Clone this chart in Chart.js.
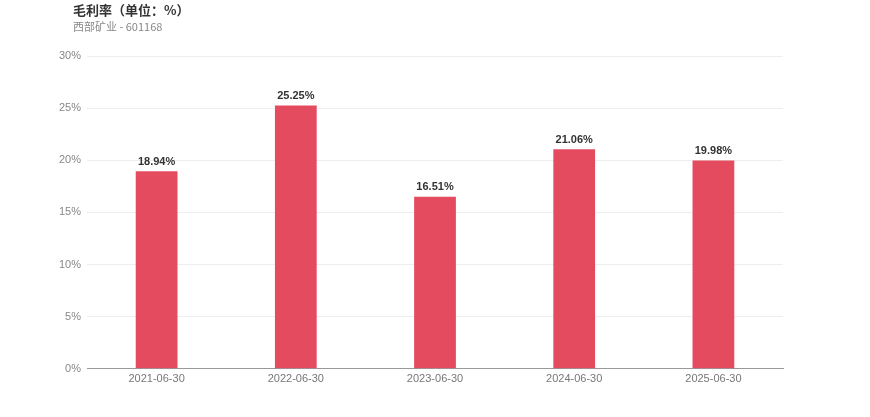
<!DOCTYPE html>
<html>
<head>
<meta charset="utf-8">
<script src="https://cdn.jsdelivr.net/npm/chart.js@4"></script>
<style>
  html, body { margin: 0; padding: 0; background: #fff; }
  #wrap { position: relative; width: 870px; height: 417px; }
  #title { position: absolute; left: 73px; top: 0px; font: bold 13px "Noto Sans CJK SC", "Liberation Sans", sans-serif; color: #333; }
  #sub { position: absolute; left: 73px; top: 18px; font: 11px "Noto Sans CJK SC", "Liberation Sans", sans-serif; color: #888; }
  canvas { position: absolute; left: 0; top: 0; }
</style>
</head>
<body>
<div id="wrap">
  <canvas id="c" width="870" height="417"></canvas>
  <div id="title">毛利率（单位：%）</div>
  <div id="sub">西部矿业 - 601168</div>
</div>
<script>
const categories = ["2021-06-30", "2022-06-30", "2023-06-30", "2024-06-30", "2025-06-30"];
const grossMargin = [18.94, 25.25, 16.51, 21.06, 19.98];
const yTicks = [0, 5, 10, 15, 20, 25, 30];

const valueLabels = {
  id: 'valueLabels',
  afterDatasetsDraw(chart) {
    const ctx = chart.ctx;
    const meta = chart.getDatasetMeta(0);
    ctx.save();
    ctx.font = 'bold 11px "Liberation Sans", Arial, sans-serif';
    ctx.fillStyle = '#333';
    ctx.textAlign = 'center';
    ctx.textBaseline = 'bottom';
    meta.data.forEach((bar, i) => {
      ctx.fillText(grossMargin[i].toFixed(2) + '%', bar.x, bar.y - 4);
    });
    ctx.restore();
  }
};

new Chart(document.getElementById('c'), {
  type: 'bar',
  data: {
    labels: categories,
    datasets: [{
      data: grossMargin,
      backgroundColor: '#e54b5f',
      categoryPercentage: 0.6,
      barPercentage: 0.5
    }]
  },
  options: {
    responsive: false,
    animation: false,
    layout: { padding: { top: 56, left: 53, right: 87, bottom: 27 } },
    plugins: { legend: { display: false }, tooltip: { enabled: false } },
    scales: {
      x: {
        grid: { display: false, drawTicks: false },
        border: { color: '#999', width: 1 },
        ticks: { color: '#777', font: { size: 11, family: '"Liberation Sans", Arial, sans-serif' }, padding: 4 }
      },
      y: {
        min: 0, max: 30,
        afterBuildTicks(scale) { scale.ticks = yTicks.map(v => ({ value: v })); },
        grid: { color: '#eeeeee', drawTicks: false },
        border: { display: false },
        ticks: { color: '#888', font: { size: 11, family: '"Liberation Sans", Arial, sans-serif' }, padding: 6, callback: v => v + '%' }
      }
    }
  },
  plugins: [valueLabels]
});
</script>
</body>
</html>
